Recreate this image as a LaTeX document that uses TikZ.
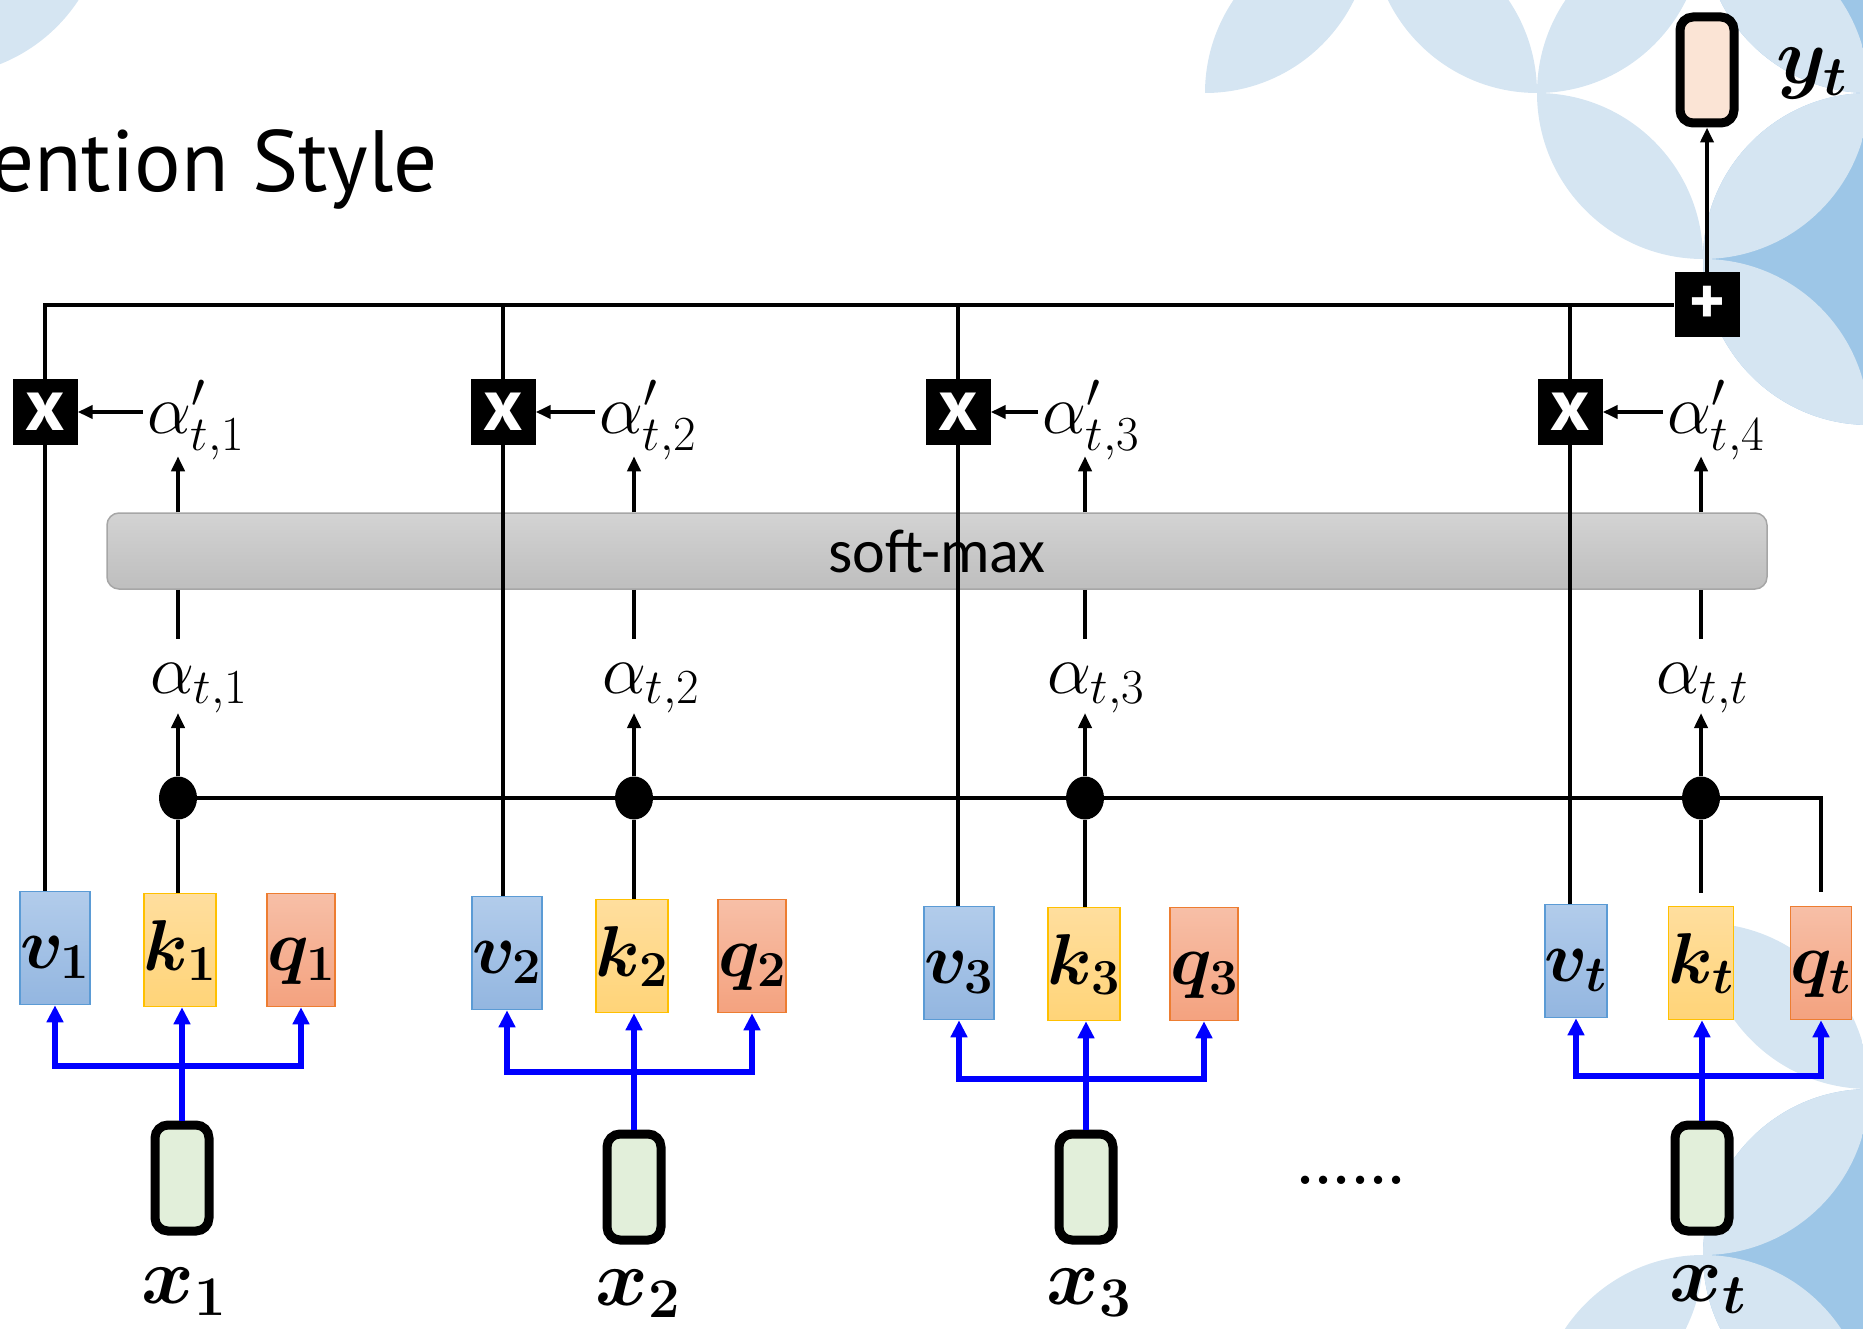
\RequirePackage{fix-cm}
\documentclass[tikz,border=0pt]{standalone}
\usepackage{fontspec}
\usepackage{bm}
\usetikzlibrary{arrows.meta,shapes.geometric}

\newfontfamily\titlefont{PT Sans}
\newfontfamily\smfont{Carlito}

\definecolor{bglight}{HTML}{D5E5F2}
\definecolor{bgdark}{HTML}{9DC6E7}
\definecolor{vtop}{HTML}{B2CCEB}
\definecolor{vbot}{HTML}{93B6E0}
\definecolor{vedge}{HTML}{5B9BD5}
\definecolor{ktop}{HTML}{FFDE9E}
\definecolor{kbot}{HTML}{FFD478}
\definecolor{kedge}{HTML}{FFC000}
\definecolor{qtop}{HTML}{F7BFA7}
\definecolor{qbot}{HTML}{F4A27F}
\definecolor{qedge}{HTML}{ED7D31}
\definecolor{xfill}{HTML}{E2EFDA}
\definecolor{yfill}{HTML}{FBE4D5}
\definecolor{smtop}{HTML}{D3D3D3}
\definecolor{smbot}{HTML}{BEBEBE}
\definecolor{smedge}{HTML}{A6A6A6}

% one petal of the background: overlap of two circles of the lattice
\newcommand\petal[4]{%
  \begin{scope}
    \clip ({1205+166*(#1)},{93+166*(#2)}) circle (166);
    \fill[bglight] ({1205+166*(#3)},{93+166*(#4)}) circle (166);
  \end{scope}}

\tikzset{
  wire/.style={line width=4pt},
  arr/.style={wire,-{Triangle[length=15pt,width=13pt]}},
  barr/.style={blue,line width=5.5pt,-{Triangle[length=17pt,width=16pt]}},
  opbox/.style={fill=black,text=white,minimum size=65pt,inner sep=0pt,
    font=\titlefont\bfseries\fontsize{75}{75}\selectfont},
  vec/.style={minimum width=61pt,minimum height=113pt,inner sep=0pt,
    text height=50pt,text depth=10pt,
    line width=1.5pt,font=\fontsize{72}{72}\selectfont},
  vbox/.style={vec,draw=vedge,top color=vtop,bottom color=vbot},
  kbox/.style={vec,draw=kedge,top color=ktop,bottom color=kbot},
  qbox/.style={vec,draw=qedge,top color=qtop,bottom color=qbot},
  tok/.style={draw,line width=9pt,rounded corners=13pt,fill=xfill,
    minimum width=54pt,minimum height=106pt,inner sep=0pt},
  lbl/.style={inner sep=4pt,font=\fontsize{70}{70}\selectfont},
  big/.style={inner sep=2pt,font=\fontsize{80}{80}\selectfont},
  dotnode/.style={ellipse,fill=black,minimum width=38pt,minimum height=43pt,inner sep=0pt},
}

\begin{document}
\begin{tikzpicture}[x=1pt,y=-1pt]
\useasboundingbox (0,0) rectangle (1863,1329);
\clip (0,0) rectangle (1863,1329);

% background decoration
\fill[bglight] (-62,-92) circle (168);
\foreach \i/\j in {4/-1,4/1,4/7}
  \fill[bgdark] ({1205+166*(\i)},{93+166*(\j)}) circle (166);
\petal{0}{-1}{1}{0}
\petal{2}{-1}{1}{0}
\petal{2}{-1}{3}{0}
\petal{3}{0}{2}{1}
\petal{3}{0}{4}{-1}
\petal{3}{0}{4}{1}
\petal{4}{1}{3}{2}
\petal{3}{6}{4}{5}
\petal{3}{6}{4}{7}
\petal{2}{7}{3}{8}
\petal{3}{8}{4}{7}

\node[anchor=base west,inner sep=0pt,font=\titlefont\fontsize{87}{87}\selectfont]
  (title) at (-10,192) {ention Style};

% soft-max layer
\node[rounded corners=12pt,draw=smedge,line width=1.5pt,top color=smtop,bottom color=smbot,
  minimum width=1660pt,minimum height=76pt,font=\smfont\fontsize{62}{62}\selectfont]
  (sm) at (937,551) {soft-max};

% weighted sum and output
\node[opbox,font=\titlefont\bfseries\fontsize{68}{68}\selectfont] (plus) at (1707,305) {+};
\node[tok,fill=yfill] (yt) at (1707,70) {};
\node[big] (ytl) at (1812,74) {$\bm{y_t}$};

\node[opbox] (mul1) at (45,412) {x};
\node[opbox] (mul2) at (503,412) {x};
\node[opbox] (mul3) at (958,412) {x};
\node[opbox] (mul4) at (1570,412) {x};

\node[lbl,anchor=base west] (ap1) at (143,433) {$\alpha'_{t,1}$};
\node[lbl,anchor=base west] (ap2) at (595,433) {$\alpha'_{t,2}$};
\node[lbl,anchor=base west] (ap3) at (1038,433) {$\alpha'_{t,3}$};
\node[lbl,anchor=base west] (ap4) at (1663,433) {$\alpha'_{t,4}$};

\node[lbl,anchor=base west] (al1) at (146,693) {$\alpha_{t,1}$};
\node[lbl,anchor=base west] (al2) at (598,693) {$\alpha_{t,2}$};
\node[lbl,anchor=base west] (al3) at (1043,693) {$\alpha_{t,3}$};
\node[lbl,anchor=base west] (al4) at (1652,693) {$\alpha_{t,t}$};

\node[dotnode] (dot1) at (178,798) {};
\node[dotnode] (dot2) at (634,798) {};
\node[dotnode] (dot3) at (1085,798) {};
\node[dotnode] (dot4) at (1701,798) {};

% value / key / query vectors
\node[vbox] (v1) at (55,948) {$\bm{v_1}$};
\node[kbox] (k1) at (180,950) {$\bm{k_1}$};
\node[qbox] (q1) at (301,950) {$\bm{q_1}$};
\node[vbox] (v2) at (507,953) {$\bm{v_2}$};
\node[kbox] (k2) at (632,956) {$\bm{k_2}$};
\node[qbox] (q2) at (752,956) {$\bm{q_2}$};
\node[vbox] (v3) at (959,963) {$\bm{v_3}$};
\node[kbox] (k3) at (1084,964) {$\bm{k_3}$};
\node[qbox] (q3) at (1204,964) {$\bm{q_3}$};
\node[vbox] (v4) at (1576,961) {$\bm{v_t}$};
\node[kbox] (k4) at (1701,963) {$\bm{k_t}$};
\node[qbox] (q4) at (1821,963) {$\bm{q_t}$};

% inputs
\node[tok] (x1) at (182,1178) {};
\node[tok] (x2) at (634,1187) {};
\node[tok] (x3) at (1086,1187) {};
\node[tok] (x4) at (1702,1178) {};
\node[big] (x1l) at (184,1292) {$\bm{x_1}$};
\node[big] (x2l) at (638,1294) {$\bm{x_2}$};
\node[big] (x3l) at (1089,1293) {$\bm{x_3}$};
\node[big] (x4l) at (1708,1290) {$\bm{x_t}$};
\node[inner sep=0pt,font=\bfseries\fontsize{58}{58}\selectfont] (more) at (1351,1180) {......};

\coordinate (bus1) at (182,1066);
\coordinate (bus2) at (634,1072);
\coordinate (bus3) at (1086,1079);
\coordinate (bus4) at (1702,1076);

% connections
\draw[wire] (mul1.north) |- (plus.west);
\foreach \m in {mul2,mul3,mul4}
  \draw[wire] (\m.north) -- (\m |- plus);
\draw[arr] (plus.north) -- (yt.south);

\foreach \n in {1,2,3,4}{
  \draw[wire] (mul\n.south) -- (mul\n |- v\n.north);
  \draw[arr] (mul\n -| ap\n.west) -- (mul\n.east);
  \draw[arr] (dot\n |- sm.north) -- ++(0,-56);
  \draw[wire] (dot\n |- sm.south) -- ++(0,49);
  \draw[arr] (dot\n) -- ++(0,-85);
  \draw[barr] (x\n.north) -- (bus\n) -| (v\n.south);
  \draw[barr] (bus\n) -| (q\n.south);
  \draw[barr] (bus\n) -- (bus\n |- k\n.south);
}
\draw[wire] (dot1 |- k1.north) -- (dot1);
\draw[wire] (dot2 |- k2.north) -- (dot2);
\draw[wire] (dot3 |- k3.north) -- (dot3);
\draw[wire] (dot4) -- ++(0,95);
\draw[wire] (dot1) -| ([yshift=14pt]q4.north);
\end{tikzpicture}
\end{document}
